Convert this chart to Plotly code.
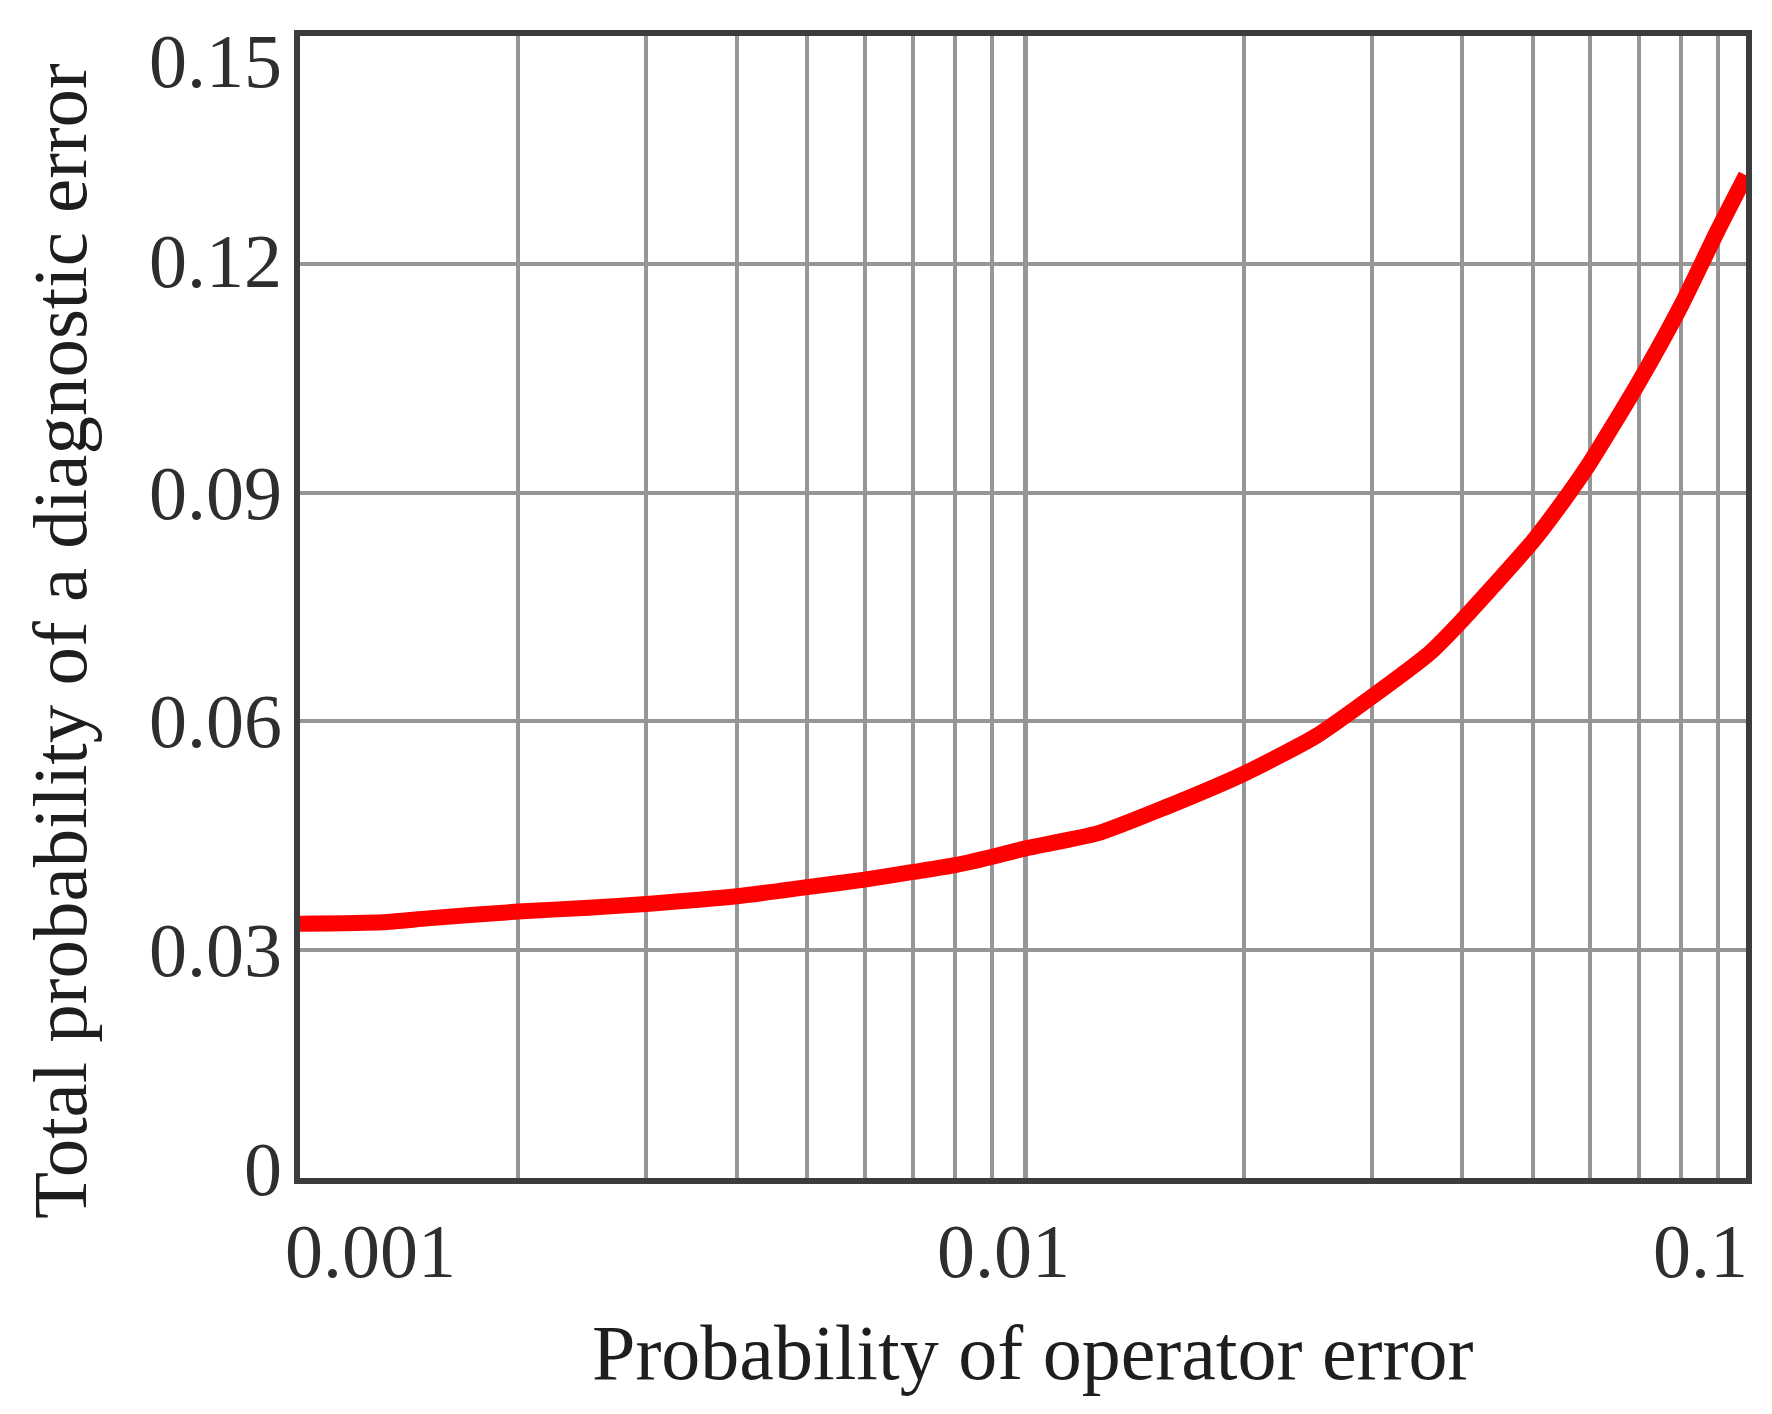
import math
import plotly.graph_objects as go

# ---- data ----
operator_error = [0.001, 0.0013, 0.0015, 0.002, 0.0025, 0.003, 0.004, 0.005, 0.006, 0.007,
                  0.008, 0.009, 0.01, 0.0126, 0.0156, 0.02, 0.0251, 0.03, 0.0361, 0.04,
                  0.05, 0.055, 0.06, 0.07, 0.08, 0.09, 0.0984]
diag_error = [0.0334, 0.0336, 0.0341, 0.0350, 0.0355, 0.0360, 0.0370, 0.0382, 0.0392, 0.0402,
              0.0411, 0.0422, 0.0433, 0.0453, 0.0487, 0.0531, 0.0580, 0.0632, 0.0690, 0.0733,
              0.0836, 0.0888, 0.0940, 0.1045, 0.1145, 0.1245, 0.1317]

x_grid_vals = [0.001, 0.002, 0.003, 0.004, 0.005, 0.006, 0.007, 0.008, 0.009,
               0.01, 0.02, 0.03, 0.04, 0.05, 0.06, 0.07, 0.08, 0.09]
x_major = 0.01
x_label_vals = [0.001, 0.01, 0.1]
x_label_text = ["0.001", "0.01", "0.1"]
y_tick_vals = [0, 0.03, 0.06, 0.09, 0.12, 0.15]
y_tick_text = ["0", "0.03", "0.06", "0.09", "0.12", "0.15"]

x_title = "Probability of operator error"
y_title = "Total probability of a diagnostic error"

FONT = "Liberation Serif"
# the page body adds a small offset, so the figure is drawn a bit smaller
W, H = 1756, 1398
L, R, T, B = 292, 14, 28, 228
X_RANGE = [-3, -1.007]

fig = go.Figure()
fig.add_trace(go.Scatter(
    x=operator_error, y=diag_error, mode="lines",
    line=dict(color="#ff0000", width=16, shape="spline", smoothing=0.6),
    showlegend=False, hoverinfo="skip"))

fig.update_layout(
    width=W, height=H,
    margin=dict(l=L, r=R, t=T, b=B),
    paper_bgcolor="white", plot_bgcolor="white",
    font=dict(family=FONT, color="#2a2a2a"),
)

fig.update_xaxes(
    type="log", range=X_RANGE,
    tickvals=x_grid_vals, showticklabels=False, ticks="",
    showgrid=True, gridcolor="#969696", gridwidth=4,
    showline=True, linecolor="#3c3c3c", linewidth=6, mirror=True,
    zeroline=False,
)
fig.update_yaxes(
    range=[0, 0.15],
    tickvals=y_tick_vals, showticklabels=False, ticks="",
    showgrid=True, gridcolor="#969696", gridwidth=4,
    showline=True, linecolor="#3c3c3c", linewidth=6, mirror=True,
    zeroline=False,
)

# dark major vertical grid line at 0.01
fig.add_shape(type="line", xref="x", yref="paper", x0=x_major, x1=x_major, y0=0, y1=1,
              line=dict(color="#1e1e1e", width=4), layer="between")

tick_font = dict(family=FONT, size=76, color="#2e2e2e")

# x tick labels (placed as in the reference); log axis -> annotation x in log10 units
x_anchors = ["left", "center", "right"]
x_shifts = [-17, -22, 4]
for v, t, a, s in zip(x_label_vals, x_label_text, x_anchors, x_shifts):
    pos = min(math.log10(v), X_RANGE[1])
    fig.add_annotation(x=pos, y=0, xref="x", yref="paper", text=t, showarrow=False,
                       xanchor=a, yanchor="middle", xshift=s, yshift=-73, font=tick_font)

# y tick labels
y_shifts = [9, 0, 0, 0, 3, -25]
for v, t, s in zip(y_tick_vals, y_tick_text, y_shifts):
    fig.add_annotation(x=0, y=v, xref="paper", yref="y", text=t, showarrow=False,
                       xanchor="right", yanchor="middle", xshift=-16, yshift=s, font=tick_font)

# axis titles
fig.add_annotation(x=0.5, y=0, xref="paper", yref="paper", text=x_title, showarrow=False,
                   xanchor="center", yanchor="middle", xshift=10, yshift=-174,
                   font=dict(family=FONT, size=78, color="#1e1e1e"))
fig.add_annotation(x=0, y=0.5, xref="paper", yref="paper", text=y_title, showarrow=False,
                   textangle=-90, xanchor="center", yanchor="middle", xshift=-240, yshift=-34,
                   font=dict(family=FONT, size=77, color="#1e1e1e"))

fig.write_html("out.html")
